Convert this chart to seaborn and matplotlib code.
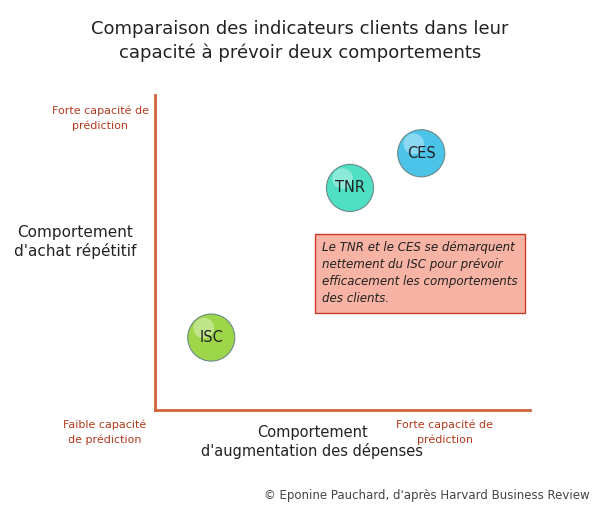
import matplotlib
matplotlib.use("Agg")
import matplotlib.pyplot as plt
import seaborn as sns
import pandas as pd

# data
labels = ["ISC", "TNR", "CES"]
x_vals = [1.5, 5.2, 7.1]
y_vals = [2.3, 7.05, 8.15]
colors = ["#9ed64a", "#4fe0c4", "#4cc4ea"]

sns.set_theme(style="white")
fig = plt.figure(figsize=(6, 5.2), dpi=100)
ax = fig.add_axes([155 / 600, 1 - 410 / 520, 375 / 600, 315 / 520])

df = pd.DataFrame({"x": x_vals, "y": y_vals, "label": labels})
sns.scatterplot(data=df, x="x", y="y", hue="label", palette=colors, s=1150,
                edgecolor="#6a8a8a", linewidth=0.8, legend=False, ax=ax, zorder=3)
# soft highlight on each bubble
ax.scatter(df["x"] - 0.2, df["y"] + 0.3, s=220, color="white", alpha=0.35,
           edgecolor="none", zorder=4)
for _, r in df.iterrows():
    ax.text(r["x"], r["y"], r["label"], ha="center", va="center", fontsize=10.5,
            color="#222222", zorder=5)

ax.set_xlim(0, 10)
ax.set_ylim(0, 10)
ax.set_xticks([])
ax.set_yticks([])
ax.set_xlabel("")
ax.set_ylabel("")
for s in ["top", "right"]:
    ax.spines[s].set_visible(False)
for s in ["left", "bottom"]:
    ax.spines[s].set_color("#d0643a")
    ax.spines[s].set_linewidth(2)

ax.text(4.45, 5.35,
        "Le TNR et le CES se démarquent\nnettement du ISC pour prévoir\n"
        "efficacement les comportements\ndes clients.",
        ha="left", va="top", fontsize=8.6, style="italic", color="#222222",
        linespacing=1.4, zorder=6,
        bbox=dict(boxstyle="square,pad=0.6", facecolor="#f7b3a3",
                  edgecolor="#c83a2a", linewidth=1))

red = "#b33a1e"
fig.text(0.5, 1 - 41 / 520, "Comparaison des indicateurs clients dans leur\n"
         "capacité à prévoir deux comportements", ha="center", va="center",
         fontsize=13, color="#222222", linespacing=1.4)
fig.text(100 / 600, 1 - 118 / 520, "Forte capacité de\nprédiction", ha="center",
         va="center", fontsize=8, color=red, linespacing=1.5)
fig.text(105 / 600, 1 - 432 / 520, "Faible capacité\nde prédiction", ha="center",
         va="center", fontsize=8, color=red, linespacing=1.5)
fig.text(445 / 600, 1 - 432 / 520, "Forte capacité de\nprédiction", ha="center",
         va="center", fontsize=8, color=red, linespacing=1.5)
fig.text(75 / 600, 1 - 242 / 520, "Comportement\nd'achat répétitif", ha="center",
         va="center", fontsize=11, color="#222222", linespacing=1.3)
fig.text(312 / 600, 1 - 442 / 520, "Comportement\nd'augmentation des dépenses",
         ha="center", va="center", fontsize=10.5, color="#222222", linespacing=1.3)
fig.text(590 / 600, 1 - 496 / 520, "© Eponine Pauchard, d'après Harvard Business Review",
         ha="right", va="center", fontsize=8.5, color="#444444")

fig.savefig("out.png", dpi=100)
